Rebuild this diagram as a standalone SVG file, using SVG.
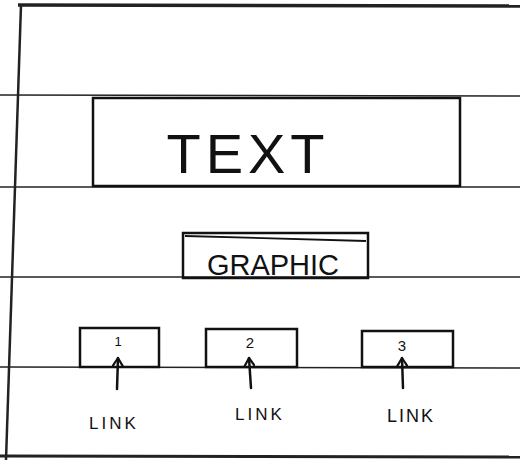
<svg xmlns="http://www.w3.org/2000/svg" width="520" height="460" viewBox="0 0 520 460">
<style>
.rule{stroke:#222;stroke-width:1.5;fill:none}
.box{stroke:#111;stroke-width:2.5;fill:none}
.lbl{font-family:"Liberation Sans",Arial,sans-serif;fill:#111;text-anchor:middle}
.arrow{stroke:#111;stroke-width:2.5;fill:none;stroke-linecap:round}
</style>
<defs>
<marker id="ah" viewBox="0 0 10 12" refX="9" refY="6" markerWidth="10" markerHeight="12" orient="auto" markerUnits="userSpaceOnUse">
<path d="M1,1 L9,6 L1,11" stroke="#111" stroke-width="2.2" fill="none" stroke-linecap="round" stroke-linejoin="round"/>
</marker>
</defs>
<rect width="520" height="460" fill="#fff"/>
<g id="paper">
<line class="rule" x1="18" y1="5" x2="520" y2="6" style="stroke-width:3.5"/>
<line class="rule" x1="21" y1="5" x2="6" y2="460" style="stroke-width:2.5"/>
<line class="rule" x1="0" y1="95" x2="520" y2="96"/>
<line class="rule" x1="0" y1="187" x2="520" y2="187"/>
<line class="rule" x1="0" y1="277" x2="520" y2="277"/>
<line class="rule" x1="0" y1="367" x2="520" y2="368"/>
<line class="rule" x1="0" y1="456" x2="520" y2="457" style="stroke-width:3"/>
</g>
<g id="text-box">
<rect class="box" x="93" y="98" width="367" height="88"/>
<text class="lbl" x="248" y="173" font-size="56" letter-spacing="5">TEXT</text>
</g>
<g id="graphic-box">
<rect class="box" x="183" y="233" width="185" height="45"/>
<line class="box" x1="185" y1="236" x2="366" y2="241" style="stroke-width:1.8"/>
<text class="lbl" x="273" y="275" font-size="29">GRAPHIC</text>
</g>
<g id="link1">
<rect class="box" x="80" y="328" width="79" height="39"/>
<text class="lbl" x="118" y="346" font-size="13">1</text>
<text class="lbl" x="114" y="429" font-size="17" letter-spacing="3">LINK</text>
</g>
<g id="link2">
<rect class="box" x="206" y="329" width="91" height="38"/>
<text class="lbl" x="250" y="348" font-size="15">2</text>
<text class="lbl" x="260" y="420" font-size="17" letter-spacing="3">LINK</text>
</g>
<g id="link3">
<rect class="box" x="362" y="331" width="91" height="36"/>
<text class="lbl" x="402" y="351" font-size="15">3</text>
<text class="lbl" x="411" y="422" font-size="18" letter-spacing="2">LINK</text>
</g>
<g id="connectors">
<line class="arrow" x1="117" y1="389" x2="118" y2="358" marker-end="url(#ah)"/>
<line class="arrow" x1="251" y1="388" x2="249" y2="358" marker-end="url(#ah)"/>
<line class="arrow" x1="403" y1="388" x2="402" y2="358" marker-end="url(#ah)"/>
</g>
</svg>
